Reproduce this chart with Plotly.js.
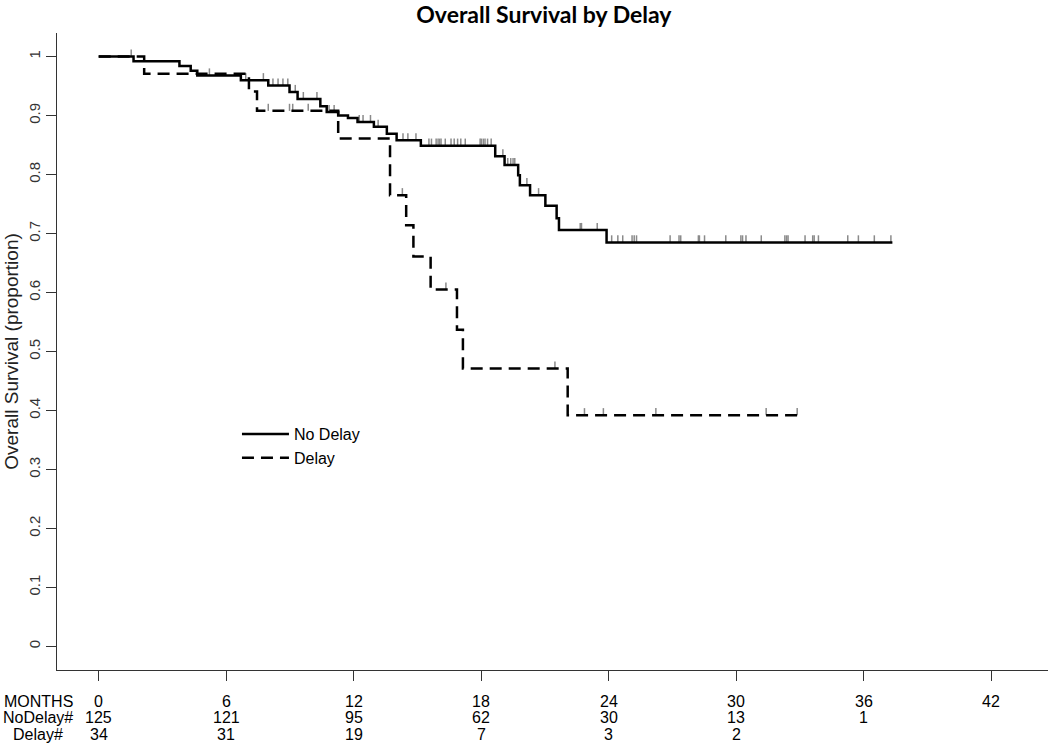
<!DOCTYPE html>
<html>
<head>
<meta charset="utf-8">
<script src="https://cdn.plot.ly/plotly-3.0.1.min.js"></script>
<style>
  body { margin: 0; background: #fff; }
  #grafico { width: 1050px; height: 743px; }
</style>
</head>
<body>
<div id="grafico"></div>
<script>
// curva Kaplan-Meier: meses donde cambia y valor despues del paso
const tiemposNoDelay = [0, 1.64, 3.80, 4.33, 4.64, 6.69, 7.98, 8.98, 9.36, 10.43, 10.73, 11.27, 11.73, 12.18, 12.95, 13.56, 14.02, 15.16, 18.66, 19.10, 19.74, 19.82, 20.30, 21.02, 21.55, 21.66, 23.90, 37.35];
const supervivenciaNoDelay = [1, 0.992, 0.984, 0.976, 0.968, 0.960, 0.951, 0.940, 0.928, 0.916, 0.906, 0.900, 0.896, 0.889, 0.881, 0.869, 0.858, 0.849, 0.831, 0.816, 0.799, 0.782, 0.765, 0.747, 0.726, 0.706, 0.685, 0.685];

const tiemposDelay = [0, 2.14, 7.07, 7.45, 11.27, 13.71, 14.47, 14.81, 15.62, 16.86, 17.14, 22.07, 32.9];
const supervivenciaDelay = [1, 0.971, 0.941, 0.908, 0.861, 0.765, 0.714, 0.661, 0.605, 0.537, 0.471, 0.392, 0.392];

// marcas de censura (meses)
const censuraNoDelay = [1.53, 5.21, 6.92, 7.75, 8.20, 8.44, 8.67, 8.90, 9.25, 9.63, 10.27, 10.75, 10.84, 11.08, 12.26, 12.44, 12.79, 13.15, 14.32, 14.55, 14.93, 15.54, 15.66, 15.88, 15.97, 16.04, 16.11, 16.31, 16.58, 16.73, 16.89, 17.04, 17.25, 17.95, 18.01, 18.10, 18.18, 18.30, 18.47, 19.02, 19.25, 19.39, 19.50, 19.58, 20.15, 20.70, 22.66, 22.72, 23.46, 24.14, 24.43, 24.66, 25.10, 25.20, 25.31, 26.89, 27.31, 27.39, 28.22, 28.27, 28.51, 29.51, 30.22, 30.30, 30.46, 31.18, 32.29, 32.37, 32.44, 33.24, 33.60, 33.67, 33.87, 35.25, 35.75, 36.50, 37.28];
const censuraDelay = [7.98, 8.98, 9.13, 9.86, 14.29, 16.34, 21.47, 22.86, 23.75, 26.22, 31.41, 32.87];

// tabla de pacientes en riesgo
const mesesTabla = [0, 6, 12, 18, 24, 30, 36, 42];
const enRiesgoNoDelay = ['125', '121', '95', '62', '30', '13', '1', ''];
const enRiesgoDelay = ['34', '31', '19', '7', '3', '2', '', ''];
const etiquetasFilas = ['MONTHS', 'NoDelay#', 'Delay#'];

const fuente = '"Liberation Sans", Arial, sans-serif';

function valorEn(tiempos, valores, t) {
  let v = valores[0];
  for (let i = 0; i < tiempos.length; i++) {
    if (tiempos[i] <= t) v = valores[i];
  }
  return v;
}

function trazaCensura(censura, tiempos, valores) {
  return {
    x: censura,
    y: censura.map(t => valorEn(tiempos, valores, t)),
    type: 'scatter',
    mode: 'markers',
    marker: { size: 1, color: 'rgba(0,0,0,0)' },
    error_y: { type: 'constant', symmetric: false, value: 0.012, valueminus: 0, width: 0, thickness: 1.5, color: '#8a8a8a' },
    showlegend: false,
    hoverinfo: 'skip'
  };
}

const trazas = [
  trazaCensura(censuraNoDelay, tiemposNoDelay, supervivenciaNoDelay),
  trazaCensura(censuraDelay, tiemposDelay, supervivenciaDelay),
  {
    x: tiemposNoDelay,
    y: supervivenciaNoDelay,
    type: 'scatter',
    mode: 'lines',
    name: 'No Delay',
    line: { shape: 'hv', color: '#000', width: 2.5 }
  },
  {
    x: tiemposDelay,
    y: supervivenciaDelay,
    type: 'scatter',
    mode: 'lines',
    name: 'Delay',
    line: { shape: 'hv', color: '#000', width: 2.5, dash: '12px,7px' }
  }
];

// filas de texto debajo del eje x
const filasY = [-0.049, -0.074, -0.1005];
const anotaciones = [];
etiquetasFilas.forEach((etiqueta, i) => {
  anotaciones.push({
    text: etiqueta, xref: 'paper', yref: 'paper', x: -0.019, y: filasY[i],
    xanchor: 'center', yanchor: 'middle', showarrow: false,
    font: { family: fuente, size: 16, color: '#000' }
  });
});
[mesesTabla.map(String), enRiesgoNoDelay, enRiesgoDelay].forEach((fila, i) => {
  fila.forEach((texto, j) => {
    if (!texto) return;
    anotaciones.push({
      text: texto, xref: 'x', yref: 'paper', x: mesesTabla[j], y: filasY[i],
      xanchor: 'center', yanchor: 'middle', showarrow: false,
      font: { family: fuente, size: 16, color: '#000' }
    });
  });
});

const diseño = {
  width: 1050,
  height: 743,
  margin: { l: 57, r: 2, t: 33, b: 73 },
  paper_bgcolor: '#fff',
  plot_bgcolor: '#fff',
  title: {
    text: '<b>Overall Survival by Delay</b>',
    font: { family: 'Lato, "Open Sans", sans-serif', size: 23, color: '#000' },
    x: 0.518, xanchor: 'center', yref: 'container', y: 0.98, yanchor: 'middle'
  },
  xaxis: {
    range: [-1.962, 44.673],
    tickvals: mesesTabla,
    showticklabels: false,
    ticks: 'outside', ticklen: 10, tickcolor: '#333', tickwidth: 1,
    showline: true, linecolor: '#333', linewidth: 1,
    showgrid: false, zeroline: false
  },
  yaxis: {
    range: [-0.04, 1.04],
    tick0: 0, dtick: 0.1,
    tickangle: -90,
    ticks: 'outside', ticklen: 10, tickcolor: '#333', tickwidth: 1,
    tickfont: { family: fuente, size: 15, color: '#333' },
    showline: true, linecolor: '#333', linewidth: 1,
    showgrid: false, zeroline: false,
    title: { text: 'Overall Survival (proportion)', font: { family: fuente, size: 19, color: '#222' }, standoff: 2 }
  },
  legend: {
    x: 0.1816, y: 0.397, xanchor: 'left', yanchor: 'top',
    itemwidth: 47, tracegroupgap: 0, bgcolor: 'rgba(0,0,0,0)',
    font: { family: fuente, size: 16, color: '#000' }
  },
  annotations: anotaciones,
  showlegend: true
};

Plotly.newPlot('grafico', trazas, diseño, { displayModeBar: false });
</script>
</body>
</html>
